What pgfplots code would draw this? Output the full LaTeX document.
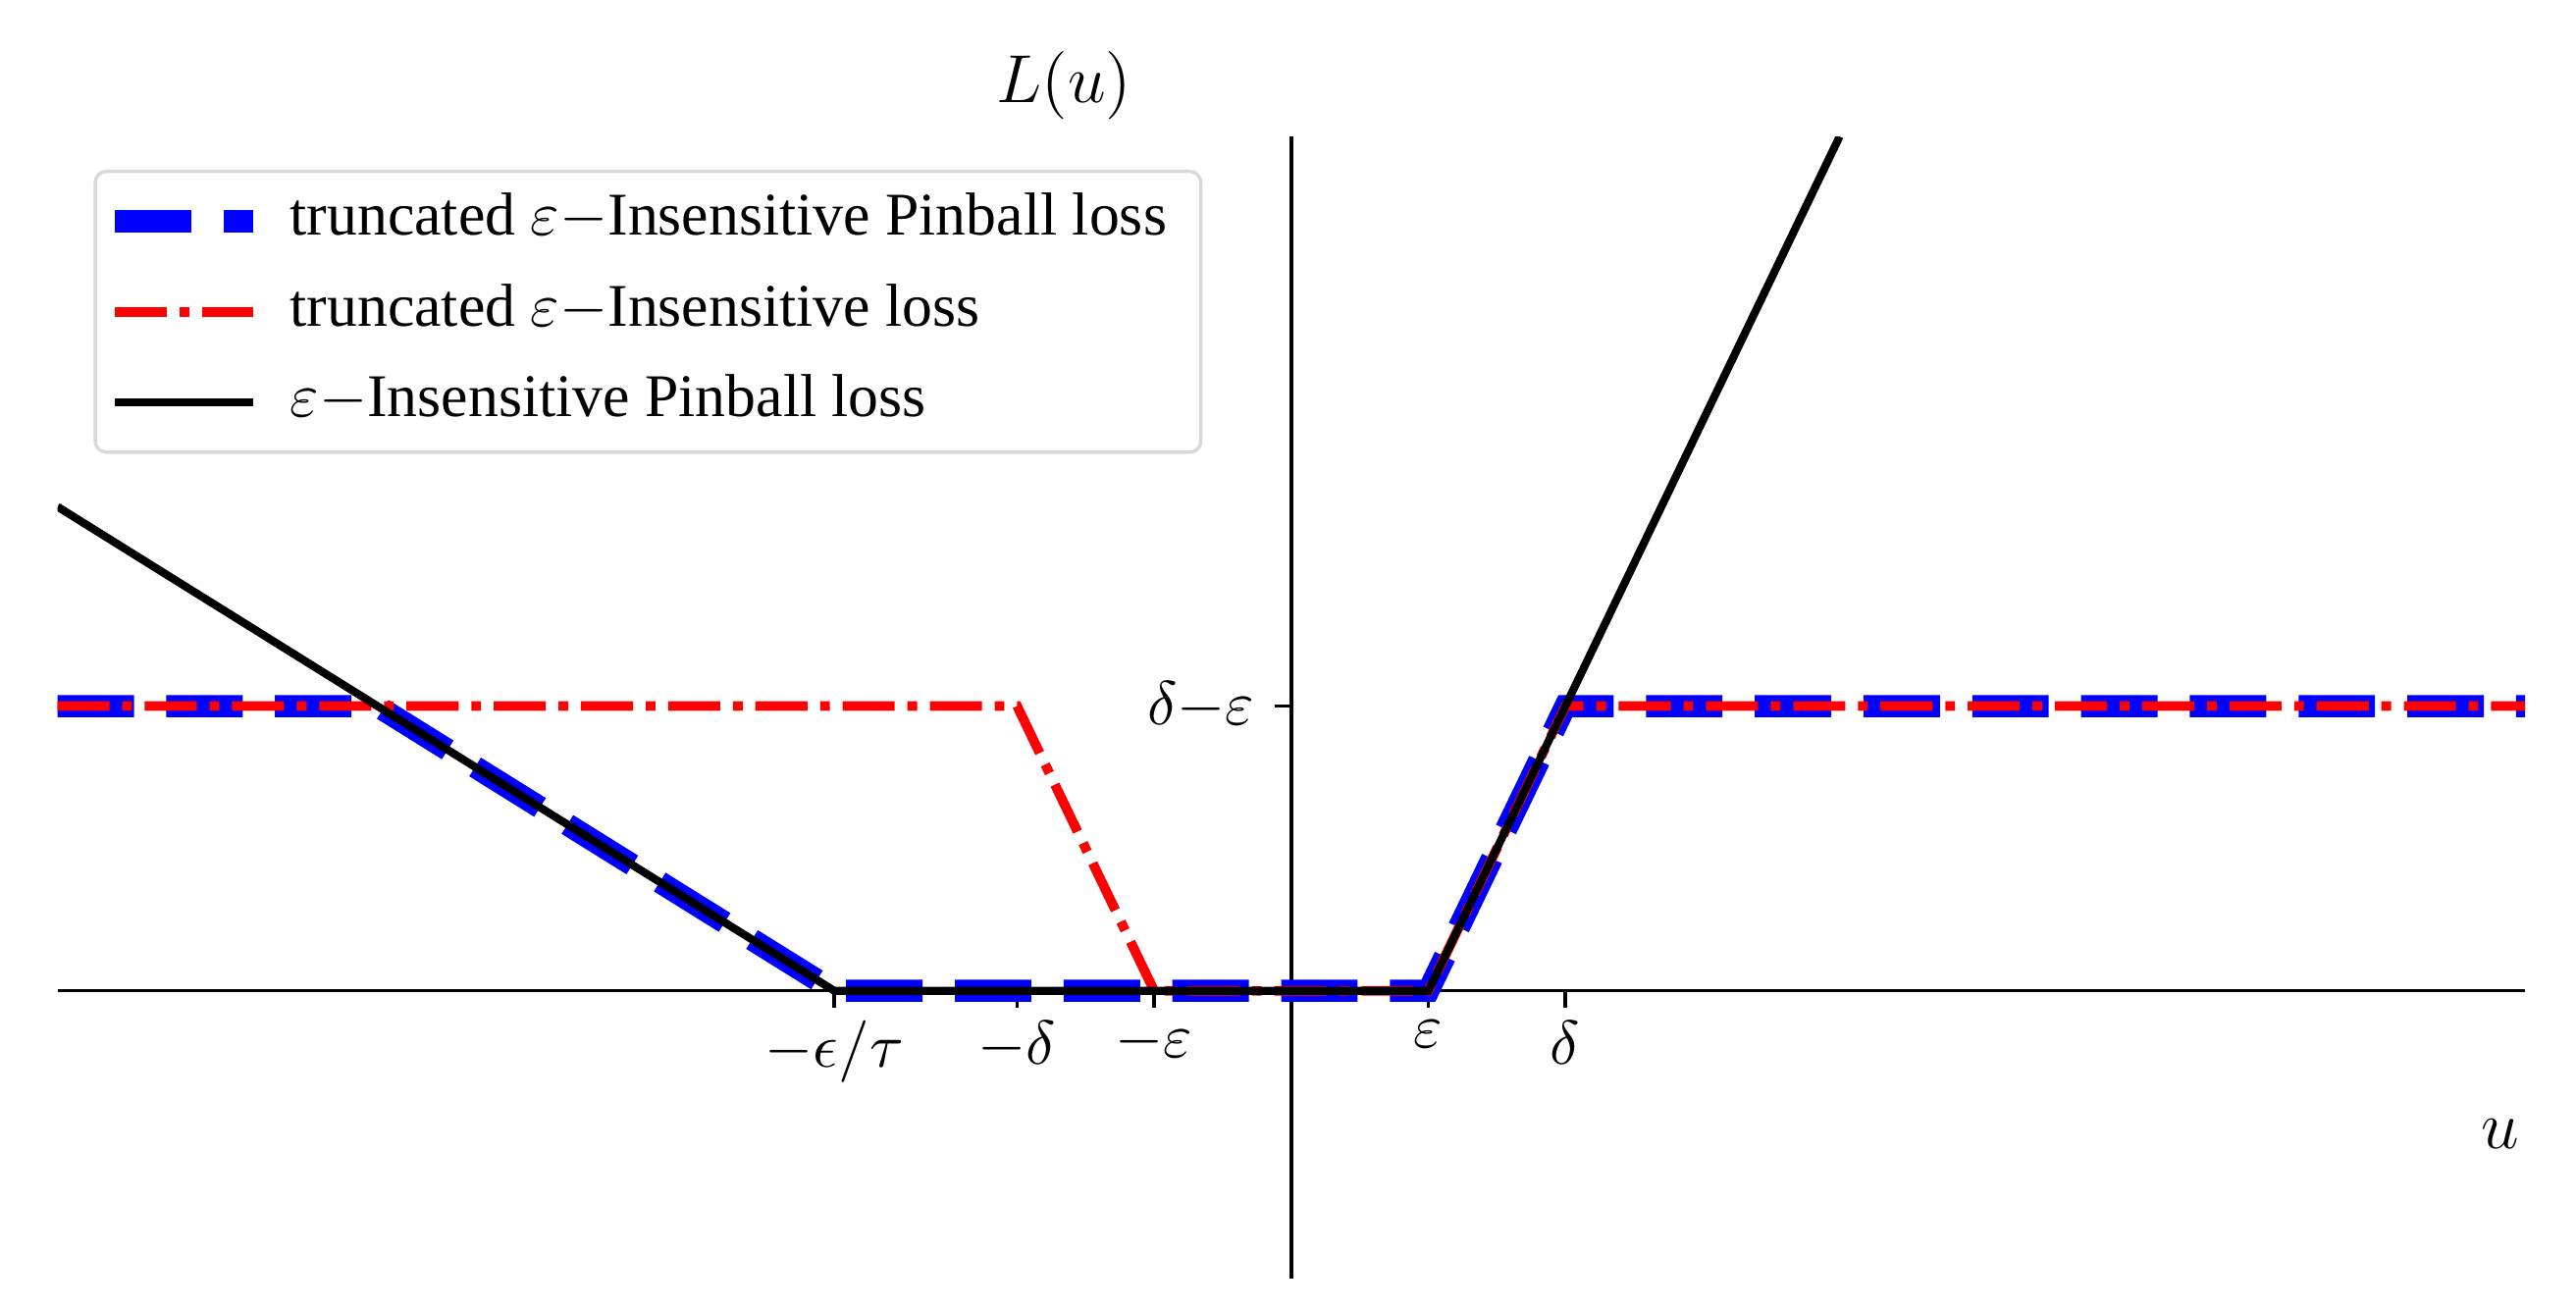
\documentclass[border=0pt]{standalone}
\usepackage{fontspec}
\setmainfont{Liberation Serif}
\usepackage{pgfplots}
\pgfplotsset{compat=1.18}
\begin{document}
\begin{tikzpicture}
\begin{axis}[
  name=ax,
  scale only axis, width=435.6pt, height=201.6pt,
  xmin=-9, xmax=9, ymin=-1.01, ymax=3,
  axis lines=middle,
  axis line style={-, line width=0.6pt, black},
  xtick={-3.3333,-2,-1,1,2},
  xticklabels={$-\epsilon/\tau$,$-\delta$,$-\varepsilon$,$\varepsilon$,$\delta$},
  ytick={1},
  yticklabels={$\delta{-}\varepsilon$},
  tick align=outside,
  major tick length=3pt,
  tick style={line width=0.6pt, black},
  ticklabel style={font=\fontsize{10.5}{12}\selectfont},
  xticklabel style={yshift=1.2pt},
  xlabel={$u$}, ylabel={$L(u)$},
  xlabel style={at={(axis description cs:0.99,0.1266)}, anchor=center, font=\fontsize{12}{14}\selectfont},
  ylabel style={at={(axis description cs:0.408,1.0446)}, anchor=center, rotate=0, font=\fontsize{12}{14}\selectfont},
  legend style={at={(axis description cs:0.0146,0.971)}, anchor=north west, draw=black!15, line width=0.6pt, rounded corners=2pt, font=\fontsize{10.7}{12}\selectfont, inner xsep=1.5pt, inner ysep=1.8pt, row sep=2pt, nodes={text height=7.5pt, text depth=2.5pt, inner xsep=4.5pt}},
  legend cell align=left,
  legend image code/.code={\draw[#1] (0pt,0pt) -- (22.6pt,0pt); \path (0pt,0pt) -- (24.5pt,0pt);},
]
\addplot[blue, line width=3.9pt, dash pattern=on 13.5pt off 5.7pt] coordinates {(-9,1) (-6.6667,1) (-3.3333,0) (1,0) (2,1) (9,1)};
\addlegendentry{truncated $\varepsilon{-}$Insensitive Pinball loss}
\addplot[red, line width=1.7pt, dash pattern=on 9.2pt off 2.25pt on 1.7pt off 2.25pt] coordinates {(-9,1) (-2,1) (-1,0) (1,0) (2,1) (9,1)};
\addlegendentry{truncated $\varepsilon{-}$Insensitive loss}
\addplot[black, line width=1.4pt] coordinates {(-9,1.7) (-3.3333,0) (1,0) (4,3)};
\addlegendentry{$\varepsilon{-}$Insensitive Pinball loss}
\end{axis}
\pgfresetboundingbox
\path ([shift={(-10.15pt,-5.5pt)}]ax.south west) rectangle ([shift={(9pt,24.1pt)}]ax.north east);
\end{tikzpicture}
\end{document}
